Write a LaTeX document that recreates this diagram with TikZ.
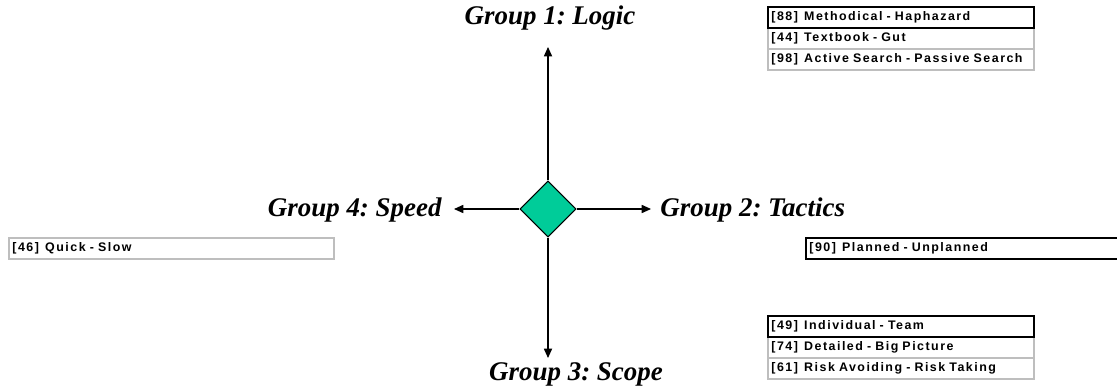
\documentclass[tikz,border=0pt]{standalone}
\usepackage{fontspec}
\setmainfont{Liberation Serif}
\newfontfamily\rowfont[LetterSpace=12]{Liberation Sans}
\usetikzlibrary{shapes.geometric,arrows.meta}
\definecolor{hubgreen}{RGB}{0,204,153}
\definecolor{rowgray}{RGB}{190,190,190}
\frenchspacing

\begin{document}
\begin{tikzpicture}
[x=0.03cm, y=-0.03cm, line width=0.9pt,
group/.style={font=\fontsize{23}{26}\selectfont\bfseries\itshape},
hub/.style={diamond, draw, fill=hubgreen, inner sep=0pt, minimum size=1.68cm},
axis/.style={-{Triangle[length=8pt,width=7pt]}},
row/.style={rectangle, draw=rowgray, line width=1.6pt, anchor=north west, inner xsep=3pt, inner ysep=0pt,
  minimum height=0.63cm, text width=7.98cm-6pt, align=left, font=\rowfont\fontsize{10.6}{12}\selectfont\bfseries},
key/.style={row, draw=black}]

\clip (0,0) rectangle (1117,391);

\node[hub] (hub) at (548,209) {};

\node[group] (logic) at (550,18) {Group 1: Logic};
\node[group, anchor=west] (tactics) at (656,210) {Group 2: Tactics};
\node[group] (scope) at (576,374) {Group 3: Scope};
\node[group, anchor=east] (speed) at (446,210) {Group 4: Speed};

\coordinate (upend) at (548,47);
\coordinate (rightend) at (651,209);
\coordinate (downend) at (548,358);
\coordinate (leftend) at (454,209);

\draw[axis] (hub.north) -- (upend);
\draw[axis] (hub.east) -- (rightend);
\draw[axis] (hub.south) -- (downend);
\draw[axis] (hub.west) -- (leftend);

% logic items
\node[row] (active) at (767,48) {[98]\enspace Active Search - Passive Search};
\node[row] (textbook) at (767,27) {[44]\enspace Textbook - Gut};
\node[key] (methodical) at (767,6) {[88]\enspace Methodical - Haphazard};

% scope items
\node[row] (risk) at (767,357) {[61]\enspace Risk Avoiding - Risk Taking};
\node[row] (detailed) at (767,336) {[74]\enspace Detailed - Big Picture};
\node[key] (individual) at (767,315) {[49]\enspace Individual - Team};

% speed and tactics items
\node[row, text width=9.75cm-6pt] (quick) at (8,237) {[46]\enspace Quick - Slow};
\node[key, text width=10cm-6pt] (planned) at (805,237) {[90]\enspace Planned - Unplanned};
\end{tikzpicture}
\end{document}
